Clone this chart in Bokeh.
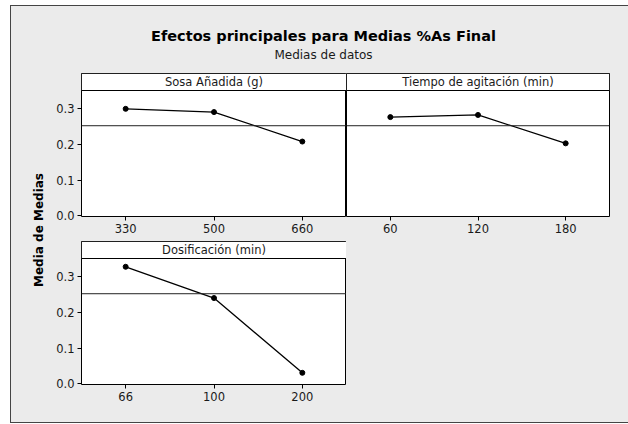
import math
from bokeh.plotting import figure
from bokeh.layouts import row, column
from bokeh.models import (Range1d, FactorRange, FixedTicker, PrintfTickFormatter,
                          Span, BoxAnnotation, Label)
from bokeh.core.properties import value
from bokeh.embed import file_html
from bokeh.resources import INLINE

# ---- data ----
title_text = "Efectos principales para Medias %As Final"
subtitle_text = "Medias de datos"
y_label_text = "Media de Medias"

sosa_title = "Sosa Añadida (g)"
sosa_levels = ["330", "500", "660"]
sosa_means = [0.298, 0.289, 0.207]

tiempo_title = "Tiempo de agitación (min)"
tiempo_levels = ["60", "120", "180"]
tiempo_means = [0.275, 0.281, 0.202]

dosif_title = "Dosificación (min)"
dosif_levels = ["66", "100", "200"]
dosif_means = [0.326, 0.239, 0.031]

grand_mean = 0.251
y_ticks = [0.0, 0.1, 0.2, 0.3]

# ---- styling / layout constants ----
FONT = "DejaVu Sans"
BG = "#ebebeb"
TXT = "#1a1a1a"
FRAME_H = 143
STRIP_H = 17
DATA_H = FRAME_H - STRIP_H
Y0 = -0.0015
Y_TOP = 0.349
SCALE = (Y_TOP - Y0) / DATA_H
Y1 = Y0 + FRAME_H * SCALE
STRIP_MID = Y_TOP + SCALE * STRIP_H / 2


def panel(strip_title, levels, means, fw, show_y, mbl, mbr, mbb):
    p = figure(frame_width=fw, frame_height=FRAME_H,
               x_range=FactorRange(factors=levels, range_padding=0),
               y_range=Range1d(Y0, Y1),
               output_backend="svg", toolbar_location=None,
               min_border_left=mbl, min_border_right=mbr,
               min_border_top=0, min_border_bottom=mbb,
               y_axis_location="left" if show_y else None,
               background_fill_color="white", border_fill_color=None,
               outline_line_color="black", outline_line_width=1)
    p.grid.visible = False
    xa = p.xaxis[0]
    xa.axis_line_color = None
    xa.major_tick_out = 4
    xa.major_tick_in = 0
    xa.major_tick_line_color = "black"
    xa.minor_tick_line_color = None
    xa.major_label_standoff = 3
    xa.major_label_text_font = FONT
    xa.major_label_text_font_size = "11.5px"
    xa.major_label_text_color = TXT
    if show_y:
        ya = p.yaxis[0]
        ya.ticker = FixedTicker(ticks=y_ticks)
        ya.formatter = PrintfTickFormatter(format="%.1f")
        ya.axis_line_color = None
        ya.major_tick_out = 4
        ya.major_tick_in = 0
        ya.major_tick_line_color = "black"
        ya.minor_tick_line_color = None
        ya.major_label_standoff = 3
        ya.major_label_text_font = FONT
        ya.major_label_text_font_size = "11.5px"
        ya.major_label_text_color = TXT

    p.add_layout(Span(location=grand_mean, dimension="width",
                      line_color="#222222", line_width=1, line_alpha=1))
    p.line(levels, means, line_color="black", line_width=1.3)
    p.scatter(levels, means, size=5, marker="circle",
              fill_color="black", line_color="black")
    p.add_layout(BoxAnnotation(bottom=Y_TOP, fill_color="white", fill_alpha=1,
                               line_color="black", line_alpha=1, line_width=1))
    p.text(x=[levels[1]], y=[STRIP_MID], text=[strip_title],
           text_font=value(FONT), text_font_size="11.5px",
           text_color=TXT, text_align="center", text_baseline="middle",
           level="overlay")
    return p


pA = panel(sosa_title, sosa_levels, sosa_means, 265, True, 33, 0, 25)
pB = panel(tiempo_title, tiempo_levels, tiempo_means, 263, False, 0, 19, 25)
pC = panel(dosif_title, dosif_levels, dosif_means, 265, True, 33, 0, 40)

# title area
t = figure(width=628, height=73, x_range=Range1d(0, 628), y_range=Range1d(0, 73),
           x_axis_location=None, y_axis_location=None, min_border=0,
           output_backend="svg", toolbar_location=None,
           background_fill_color=None, border_fill_color=None,
           outline_line_color=None)
t.grid.visible = False
t.add_layout(Label(x=323, y=37.5, text=title_text, text_font=FONT,
                   text_font_style="bold", text_font_size="14.5px",
                   text_color="black", text_align="center",
                   text_baseline="middle"))
t.add_layout(Label(x=323, y=19, text=subtitle_text, text_font=FONT,
                   text_font_size="12px", text_color=TXT,
                   text_align="center", text_baseline="middle"))

# common y label
yl = figure(width=48, height=351, x_range=Range1d(0, 48), y_range=Range1d(0, 351),
            x_axis_location=None, y_axis_location=None, min_border=0,
            output_backend="svg", toolbar_location=None,
            background_fill_color=None, border_fill_color=None,
            outline_line_color=None)
yl.grid.visible = False
yl.add_layout(Label(x=38, y=194.5, text=y_label_text, text_font=FONT,
                    text_font_style="bold", text_font_size="12px",
                    text_color="black", angle=math.pi / 2,
                    text_align="center", text_baseline="middle"))

frame_bg = ("linear-gradient(#444,#444) 10px 5px / 1px 418px no-repeat, "
            "linear-gradient(#444,#444) 10px 5px / 618px 1px no-repeat, "
            "linear-gradient(#444,#444) 10px 422px / 618px 1px no-repeat, "
            f"linear-gradient({BG},{BG}) 10px 5px / 618px 418px no-repeat, white")

layout = column(
    t,
    row(yl, column(row(pA, pB), pC)),
    styles={"background": frame_bg},
)

open("out.html", "w").write(file_html(layout, INLINE))
